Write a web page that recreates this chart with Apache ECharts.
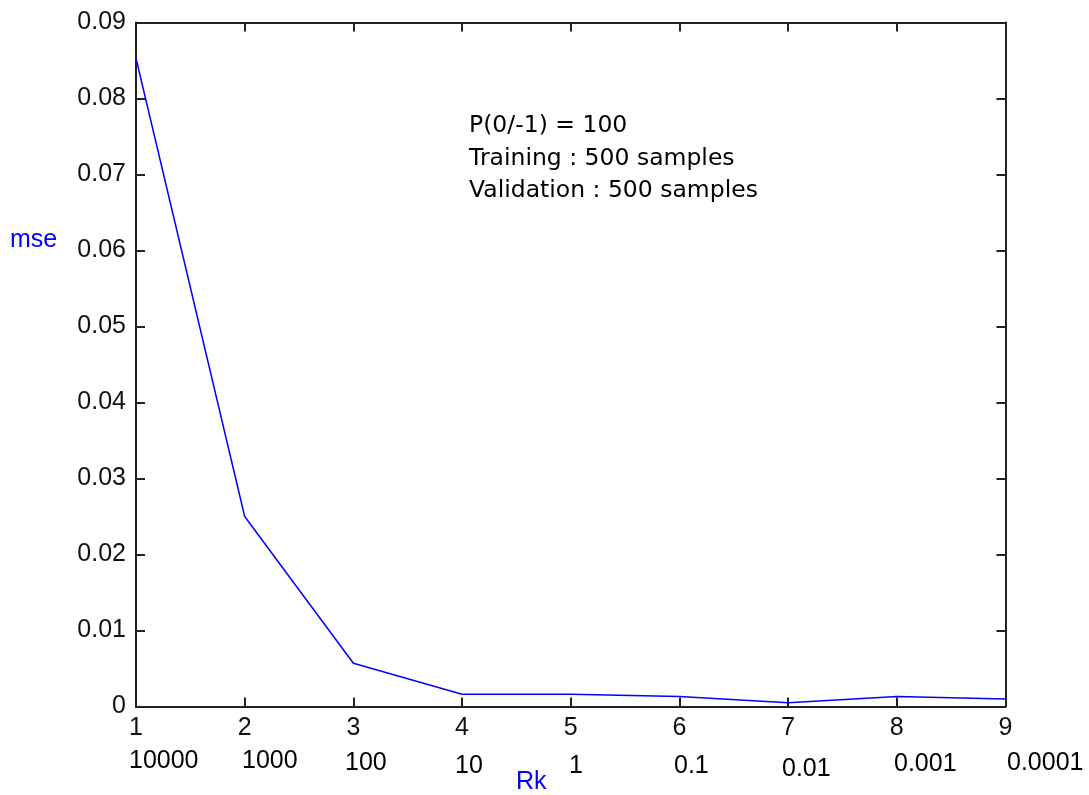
<!DOCTYPE html>
<html>
<head>
<meta charset="utf-8">
<script src="https://cdn.jsdelivr.net/npm/echarts@6/dist/echarts.min.js"></script>
<style>html,body{margin:0;padding:0;background:#fff;}#c{width:1089px;height:795px;}</style>
</head>
<body>
<div id="c"></div>
<script>
const xValues = [1, 2, 3, 4, 5, 6, 7, 8, 9];
const mseValues = [0.0853, 0.0250, 0.0057, 0.0016, 0.0016, 0.0013, 0.0005, 0.0013, 0.0010];
const rkLabels = ['10000', '1000', '100', '10', '1', '0.1', '0.01', '0.001', '0.0001'];
const annotationLines = ['P(0/-1) = 100', 'Training : 500 samples', 'Validation : 500 samples'];

const FONT = '"Liberation Sans", Arial, sans-serif';
const chart = echarts.init(document.getElementById('c'));

// pixel positions of the Rk annotation texts under the axis
const rkLeft = [129, 242, 345, 455, 569, 674, 782, 894, 1007];
const rkTop = [749, 749, 751, 754, 754, 754, 757, 752, 751];

const graphics = rkLabels.map((t, i) => ({
  type: 'text', left: rkLeft[i], top: rkTop[i],
  style: { text: t, font: '25px ' + FONT, fill: '#000' }
}));
graphics.push({ type: 'text', left: 10, top: 228, style: { text: 'mse', font: '25px ' + FONT, fill: '#0000ff' } });
graphics.push({ type: 'text', left: 516, top: 770, style: { text: 'Rk', font: '25px ' + FONT, fill: '#0000ff' } });
graphics.push({ type: 'text', left: 469, top: 110, style: { text: annotationLines.join('\n'), font: '23.5px "DejaVu Sans", sans-serif', lineHeight: 32.5, fill: '#000' } });

const axisLine = { show: true, onZero: false, lineStyle: { color: '#222', width: 2 } };
const axisTick = { show: true, inside: true, length: 9, lineStyle: { color: '#222', width: 2 } };

chart.setOption({
  backgroundColor: '#fff',
  animation: false,
  grid: { left: 136, right: 83.5, top: 22.5, bottom: 88.5 },
  xAxis: [
    { type: 'value', min: 1, max: 9, interval: 1, position: 'bottom',
      axisLine, axisTick, splitLine: { show: false },
      axisLabel: { fontSize: 25, fontFamily: FONT, color: '#111', margin: 9 } },
    { type: 'value', min: 1, max: 9, interval: 1, position: 'top',
      axisLine, axisTick, splitLine: { show: false }, axisLabel: { show: false } }
  ],
  yAxis: [
    { type: 'value', min: 0, max: 0.09, interval: 0.01, position: 'left',
      axisLine, axisTick, splitLine: { show: false },
      axisLabel: { fontSize: 25, fontFamily: FONT, color: '#111', margin: 10,
        formatter: v => v === 0 ? '0' : v.toFixed(2) } },
    { type: 'value', min: 0, max: 0.09, interval: 0.01, position: 'right',
      axisLine, axisTick, splitLine: { show: false }, axisLabel: { show: false } }
  ],
  series: [{
    type: 'line',
    data: xValues.map((x, i) => [x, mseValues[i]]),
    showSymbol: false,
    lineStyle: { color: '#0000ff', width: 1.5 },
    itemStyle: { color: '#0000ff' }
  }],
  graphic: graphics
});
</script>
</body>
</html>
